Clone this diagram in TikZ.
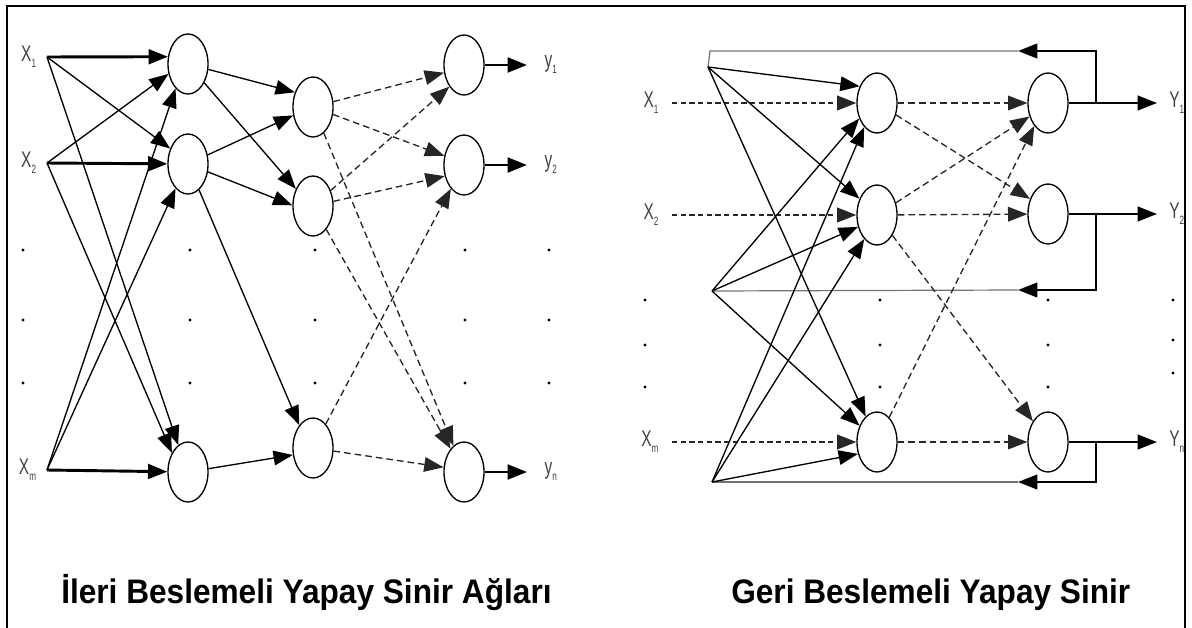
\documentclass[tikz,border=0pt]{standalone}
\usepackage{fontspec}
\setmainfont{Liberation Sans}
\newfontfamily\lblfont[FakeStretch=0.68]{Liberation Sans}
\newfontfamily\capfont[FakeStretch=0.93]{Liberation Sans Bold}
\usepackage{tikz}
\usetikzlibrary{positioning,shapes.geometric,arrows.meta}

\newcommand\lowsub[1]{\raisebox{-0.5ex}{\fontsize{9}{9}\selectfont #1}}

\tikzset{
  neuron/.style={draw,ellipse,line width=1pt,minimum width=30pt,minimum height=45pt,inner sep=0pt},
  conn/.style={-{Triangle[length=14.5pt,width=11pt]},line width=1pt},
  main/.style={conn,line width=2.2pt},
  dashconn/.style={conn,dash pattern=on 5pt off 3pt,black!85},
  inconn/.style={conn,line width=1.6pt,dash pattern=on 4pt off 2.5pt,black!85},
  back/.style={conn,line width=1.6pt},
  ret/.style={line width=0.9pt,black!55},
  lbl/.style={font=\lblfont\fontsize{17}{17}\selectfont,text=black!75,inner sep=0pt},
  caption/.style={font=\capfont\fontsize{25.5}{30}\selectfont,inner sep=0pt,anchor=base west}
}

\begin{document}
\begin{tikzpicture}[x=0.75pt,y=-0.75pt]
  \useasboundingbox (0,0) rectangle (1192,628);
  \draw[line width=1.6pt] (7,628) -- (7,6) -- (1185,6) -- (1185,628);

  \coordinate (a1) at (47,57);
  \coordinate (a2) at (47,163);
  \coordinate (a3) at (47,470);
  \node (la1) [lbl,left=8pt of a1] {X\lowsub{1}};
  \node (la2) [lbl,left=8pt of a2] {X\lowsub{2}};
  \node (la3) [lbl,left=8pt of a3] {X\lowsub{m}};

  \node (n1) [neuron] at (188,64) {};
  \node (n2) [neuron] at (188,164) {};
  \node (n3) [neuron] at (188,472) {};
  \node (h1) [neuron] at (313,107) {};
  \node (h2) [neuron] at (313,206) {};
  \node (h3) [neuron] at (313,448) {};
  \node (o1) [neuron] at (464,65) {};
  \node (o2) [neuron] at (464,165) {};
  \node (o3) [neuron] at (464,472) {};

  \coordinate (e1) at (527,65);
  \coordinate (e2) at (527,165);
  \coordinate (e3) at (527,472);
  \node (le1) [lbl,right=13pt of e1] {y\lowsub{1}};
  \node (le2) [lbl,right=13pt of e2] {y\lowsub{2}};
  \node (le3) [lbl,right=13pt of e3] {y\lowsub{n}};

  \path (a1) edge[main] (n1.160)
             edge[conn] (n2.139)
             edge[conn] (n3.110)
        (a2) edge[conn] (n1.207)
             edge[main] (n2)
             edge[conn] (n3.130)
        (a3) edge[conn] (n1.243)
             edge[conn] (n2.243)
             edge[main] (n3);
  \path (n1) edge[conn] (h1.141)
             edge[conn] (h2.135)
        (n2) edge[conn] (h1.203)
             edge[conn] (h2.178)
             edge[conn] (h3.121)
        (n3) edge[conn] (h3.199);
  \path (h1) edge[dashconn] (o1.201)
             edge[dashconn] (o2.155)
             edge[dashconn] (o3.112)
        (h2) edge[dashconn] (o1.236)
             edge[dashconn] (o2.210)
             edge[dashconn] (o3.120)
        (h3) edge[dashconn] (o2.241)
             edge[dashconn] (o3.167);
  \path (o1) edge[main] (e1)
        (o2) edge[main] (e2)
        (o3) edge[main] (e3);

  \foreach \x in {23,190,315,465,549}
    \foreach \y in {250,320,383}
      \fill (\x,\y) circle[radius=1.7];

  \coordinate (b1) at (672,103);
  \coordinate (b2) at (672,215);
  \coordinate (b3) at (672,442);
  \node (lb1) [lbl,left=10pt of b1] {X\lowsub{1}};
  \node (lb2) [lbl,left=10pt of b2] {X\lowsub{2}};
  \node (lb3) [lbl,left=10pt of b3] {X\lowsub{m}};

  \node (p1) [neuron] at (877,103) {};
  \node (p2) [neuron] at (877,215) {};
  \node (p3) [neuron] at (877,442) {};
  \node (q1) [neuron] at (1048,103) {};
  \node (q2) [neuron] at (1048,214) {};
  \node (q3) [neuron] at (1048,442) {};

  \coordinate (f1) at (1157,103);
  \coordinate (f2) at (1157,214);
  \coordinate (f3) at (1157,442);
  \node (lf1) [lbl,right=9pt of f1] {Y\lowsub{1}};
  \node (lf2) [lbl,right=9pt of f2] {Y\lowsub{2}};
  \node (lf3) [lbl,right=9pt of f3] {Y\lowsub{n}};

  \coordinate (s1) at (708,67);
  \coordinate (s2) at (712,291);
  \coordinate (s3) at (712,482);
  \coordinate (k1) at (710,51);
  \coordinate (t1) at (1096,103);
  \coordinate (t2) at (1096,214);
  \coordinate (t3) at (1096,442);
  \coordinate (c1) at (1096,51);
  \coordinate (c2) at (1096,290);
  \coordinate (c3) at (1096,482);
  \coordinate (r1) at (1018,51);
  \coordinate (r2) at (1018,290);
  \coordinate (r3) at (1018,482);

  \draw[ret] (r1) -- (k1) -- (s1);
  \draw[ret] (r2) -- (s2);
  \draw[ret] (r3) -- (s3);
  \draw[back] (t1) -- (c1) -- (r1);
  \draw[back] (t2) -- (c2) -- (r2);
  \draw[back] (t3) -- (c3) -- (r3);

  \path (b1) edge[inconn] (p1)
        (b2) edge[inconn] (p2)
        (b3) edge[inconn] (p3);
  \path (s1) edge[conn] (p1.136)
             edge[conn] (p2.137)
             edge[conn] (p3.114)
        (s2) edge[conn] (p1.221)
             edge[conn] (p2.212)
             edge[conn] (p3.137)
        (s3) edge[conn] (p1.242)
             edge[conn] (p2.242)
             edge[conn] (p3.212);
  \path (p1) edge[dashconn] (q1)
             edge[dashconn] (q2.140)
        (p2) edge[dashconn] (q1.216)
             edge[dashconn] (q2)
             edge[dashconn] (q3.126)
        (p3) edge[dashconn] (q1.239)
             edge[dashconn] (q3);
  \path (q1) edge[back] (f1)
        (q2) edge[back] (f2)
        (q3) edge[back] (f3);

  \foreach \x in {645,880,1048}
    \foreach \y in {300,345,387}
      \fill (\x,\y) circle[radius=1.7];
  \foreach \y in {300,340,373}
    \fill (1173,\y) circle[radius=1.7];

  \node (cap1) [caption] at (61,603) {İleri Beslemeli Yapay Sinir Ağları};
  \node (cap2) [caption] at (731,603) {Geri Beslemeli Yapay Sinir};
\end{tikzpicture}
\end{document}
